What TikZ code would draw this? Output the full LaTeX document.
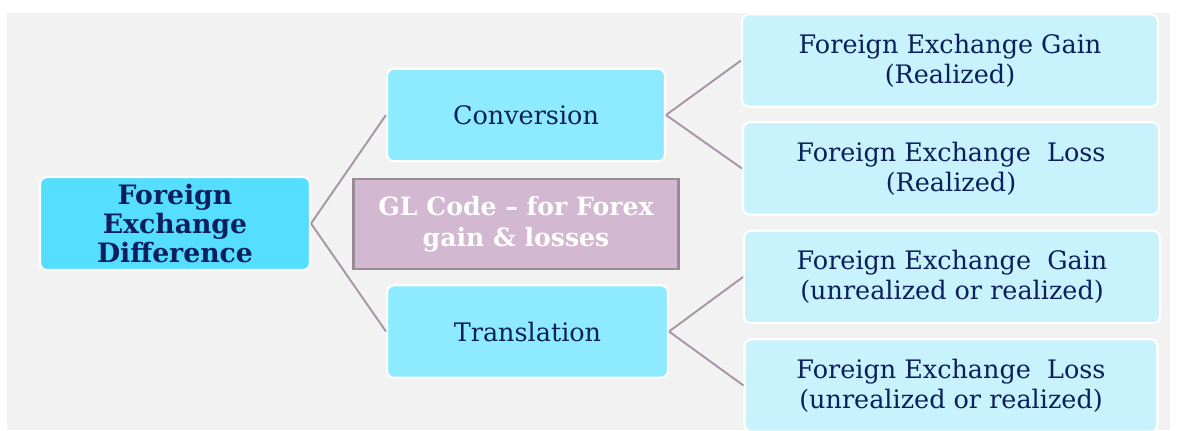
\documentclass[tikz,border=0pt]{standalone}
\usepackage{fontspec}
\setmainfont{DejaVu Serif}
\usepackage{tikz}
\definecolor{navy}{RGB}{10,31,92}
\definecolor{rootcyan}{RGB}{85,222,255}
\definecolor{midcyan}{RGB}{142,235,255}
\definecolor{leafcyan}{RGB}{200,242,252}
\definecolor{glfill}{RGB}{210,184,208}
\definecolor{gldraw}{RGB}{153,138,152}
\definecolor{linkcol}{RGB}{168,150,168}
\definecolor{bggray}{RGB}{242,242,242}
\tikzstyle{box} = [draw=white, line width=1.2pt, rounded corners=4pt, align=center, text=navy, font={\fontsize{14.5pt}{17pt}\selectfont}, inner sep=0pt]
\tikzstyle{top} = [box, fill=rootcyan, minimum width=5.4cm, minimum height=1.86cm, font={\fontsize{15.2pt}{16.7pt}\selectfont\bfseries}]
\tikzstyle{mid} = [box, fill=midcyan, minimum height=1.85cm]
\tikzstyle{leaf} = [box, fill=leafcyan, minimum width=8.32cm, minimum height=1.85cm]
\tikzstyle{glcode} = [draw=gldraw, line width=1.2pt, fill=glfill, text=white, align=center, minimum width=6.5cm, minimum height=1.8cm, font={\fontsize{14.3pt}{17.5pt}\selectfont\bfseries}]
\tikzstyle{link} = [draw=linkcol, line width=1.1pt]

\begin{document}
\begin{tikzpicture}[x=0.02cm, y=-0.02cm]
    \useasboundingbox (0,0) rectangle (1180,430);
    \fill[bggray] (7,13) rectangle (1170,430);
    \node[top](root) at (175,223.5){Foreign\\Exchange\\Difference};
    \node[mid, minimum width=5.56cm](conv) at (526,115){Conversion};
    \node[glcode](gl) at (516,224){GL Code -- for Forex\\gain \& losses};
    \node[mid, minimum width=5.62cm](trans) at (527.5,331.5){Translation};
    \node[leaf](gainr) at (950,60.5){Foreign Exchange Gain\\(Realized)};
    \node[leaf](lossr) at (951,168.5){Foreign Exchange\ \ Loss\\(Realized)};
    \node[leaf](gainu) at (952,277){Foreign Exchange\ \ Gain\\(unrealized or realized)};
    \node[leaf, minimum width=8.26cm](lossu) at (951,385.5){Foreign Exchange\ \ Loss\\(unrealized or realized)};
    \draw[link](root.east)--(conv.west);
    \draw[link](root.east)--(trans.west);
    \draw[link](conv.east)--(gainr.west);
    \draw[link](conv.east)--(lossr.west);
    \draw[link](trans.east)--(gainu.west);
    \draw[link](trans.east)--(lossu.west);
  \end{tikzpicture}
\end{document}
